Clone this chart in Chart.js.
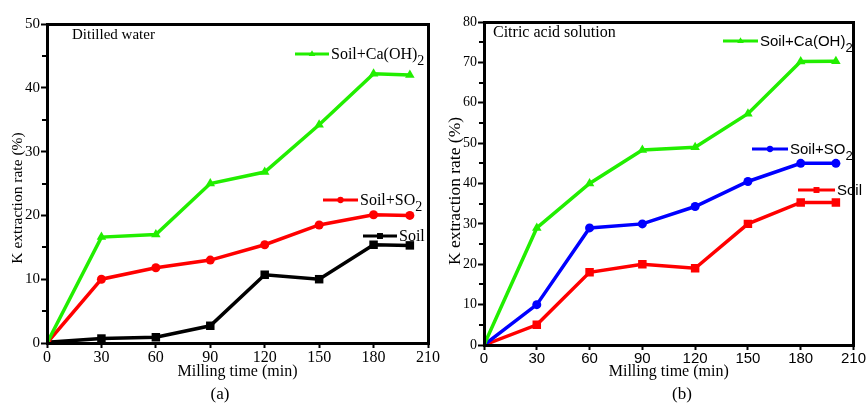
<!DOCTYPE html>
<html>
<head>
<meta charset="utf-8">
<script src="https://cdn.jsdelivr.net/npm/chart.js@4"></script>
<style>
  body { margin: 0; background: #fff; }
  #wrap { position: relative; width: 866px; height: 404px; }
  canvas { position: absolute; top: 0; }
</style>
</head>
<body>
<div id="wrap">
  <canvas id="chartA" width="440" height="404" style="left:0px"></canvas>
  <canvas id="chartB" width="426" height="404" style="left:440px"></canvas>
</div>
<script>
// milling time (min)
const times = [0, 30, 60, 90, 120, 150, 180, 200];
const xTicks = [0, 30, 60, 90, 120, 150, 180, 210];

// (a) distilled water
const waterCaOH = [0, 16.6, 17.0, 25.0, 26.8, 34.2, 42.2, 42.0];
const waterSO2 = [0, 10.0, 11.8, 13.0, 15.4, 18.5, 20.1, 20.0];
const waterSoil = [0.1, 0.7, 0.9, 2.7, 10.7, 10.0, 15.4, 15.3];
const yTicksA = [0, 10, 20, 30, 40, 50];

// (b) citric acid solution
const citricCaOH = [0, 29.0, 40.0, 48.3, 49.0, 57.3, 70.2, 70.3];
const citricSO2 = [0, 10.0, 29.0, 30.0, 34.3, 40.5, 45.0, 45.0];
const citricSoil = [0, 5.0, 18.0, 20.0, 19.0, 30.0, 35.3, 35.3];
const yTicksB = [0, 10, 20, 30, 40, 50, 60, 70, 80];

const SERIF = "'Liberation Serif', 'Times New Roman', serif";
const SANS = "'Liberation Sans', Arial, sans-serif";

function pts(vals) {
  return vals.map((v, i) => ({ x: times[i], y: v }));
}

function series(label, vals, color, style, radius) {
  return {
    label: label,
    data: pts(vals),
    borderColor: color,
    backgroundColor: color,
    borderWidth: 3.5,
    pointStyle: style,
    pointRadius: radius,
    pointBorderWidth: 0,
    pointBackgroundColor: color,
    tension: 0
  };
}

// box, minor ticks, in-plot legend and captions
const panelPlugin = {
  id: 'panel',
  afterDraw(chart, args, opts) {
    const ctx = chart.ctx;
    const a = chart.chartArea;
    const y = chart.scales.y;
    const L = Math.round(a.left), T = Math.round(a.top);
    const R = Math.round(a.right), B = Math.round(a.bottom);
    ctx.save();
    ctx.globalAlpha = 1;
    ctx.fillStyle = '#000000';
    ctx.fillRect(L - 1, T - 1, R - L + 3, 3);
    ctx.fillRect(L - 1, B - 1, R - L + 3, 3);
    ctx.fillRect(L - 1, T - 1, 3, B - T + 3);
    ctx.fillRect(R - 1, T - 1, 3, B - T + 3);
    const yt = chart.scales.y.ticks.map(t => t.value);
    for (let i = 0; i < yt.length - 1; i++) {
      const py = Math.round(y.getPixelForValue((yt[i] + yt[i + 1]) / 2));
      ctx.fillRect(L - 5, py - 1, 5, 2);
    }

    // legend entries
    chart.data.datasets.forEach((ds, i) => {
      const pos = opts.legend[i];
      ctx.strokeStyle = ds.borderColor;
      ctx.fillStyle = ds.borderColor;
      ctx.lineWidth = 3;
      ctx.beginPath();
      ctx.moveTo(pos.x1, pos.y);
      ctx.lineTo(pos.x2, pos.y);
      ctx.stroke();
      Chart.helpers.drawPoint(ctx, { pointStyle: ds.pointStyle, radius: ds.pointRadius * 0.7, rotation: 0, borderWidth: 0 },
        (pos.x1 + pos.x2) / 2, pos.y);
      const m = ds.label.match(/^(.*?)(\d?)$/);
      ctx.fillStyle = '#000';
      ctx.textBaseline = 'middle';
      ctx.textAlign = 'left';
      ctx.font = opts.legendSize + 'px ' + opts.legendFont;
      ctx.fillText(m[1], pos.x2 + 2, pos.y + 1);
      if (m[2]) {
        const w = ctx.measureText(m[1]).width;
        ctx.font = Math.round(opts.legendSize * 0.85) + 'px ' + opts.legendFont;
        ctx.fillText(m[2], pos.x2 + 2 + w, pos.y + 7);
      }
    });

    // medium label inside the plot
    ctx.fillStyle = '#000';
    ctx.textAlign = 'left';
    ctx.textBaseline = 'middle';
    ctx.font = opts.mediumSize + 'px ' + SERIF;
    ctx.fillText(opts.medium, a.left + opts.mediumX, a.top + 11);

    // axis titles and panel tag
    ctx.textAlign = 'center';
    ctx.font = '16px ' + SERIF;
    ctx.fillText('Milling time (min)', (a.left + a.right) / 2, 372);
    ctx.font = '17px ' + SERIF;
    ctx.fillText(opts.tag, opts.tagX, 395);
    ctx.save();
    ctx.translate(opts.yTitleX, opts.yTitleY);
    ctx.rotate(-Math.PI / 2);
    ctx.font = opts.yTitleSize + 'px ' + SERIF;
    ctx.fillText('K extraction rate (%)', 0, 0);
    ctx.restore();
    ctx.restore();
  }
};

function makeOptions(cfg) {
  return {
    responsive: false,
    animation: false,
    layout: { padding: { top: cfg.top, right: cfg.right, left: 0, bottom: 0 } },
    plugins: {
      legend: { display: false },
      tooltip: { enabled: false },
      panel: cfg.panel
    },
    scales: {
      x: {
        type: 'linear',
        min: 0,
        max: 210,
        afterBuildTicks: s => { s.ticks = xTicks.map(v => ({ value: v })); },
        afterFit: s => { s.height = cfg.xHeight; },
        border: { display: false },
        grid: { display: true, drawOnChartArea: false, drawTicks: true, tickLength: 5, tickWidth: 2, tickColor: '#000' },
        ticks: { color: '#000', padding: 0, maxRotation: 0, font: { family: cfg.xFont, size: cfg.xSize } }
      },
      y: {
        type: 'linear',
        min: 0,
        max: cfg.yTicks[cfg.yTicks.length - 1],
        afterBuildTicks: s => { s.ticks = cfg.yTicks.map(v => ({ value: v })); },
        afterFit: s => { s.width = cfg.yWidth; },
        border: { display: false },
        grid: { display: true, drawOnChartArea: false, drawTicks: true, tickLength: 6, tickWidth: 2, tickColor: '#000' },
        ticks: { color: '#000', padding: 1, font: { family: SERIF, size: cfg.ySize } }
      }
    }
  };
}

new Chart(document.getElementById('chartA'), {
  type: 'line',
  data: {
    datasets: [
      series('Soil+Ca(OH)2', waterCaOH, '#22ee00', 'triangle', 5.5),
      series('Soil+SO2', waterSO2, '#ff0000', 'circle', 4.5),
      series('Soil', waterSoil, '#000000', 'rect', 6)
    ]
  },
  options: makeOptions({
    top: 24, right: 7, xHeight: 61, yWidth: 47,
    xFont: SERIF, xSize: 16, ySize: 15, yTicks: yTicksA,
    panel: {
      medium: 'Ditilled water', mediumX: 25, mediumSize: 15,
      tag: '(a)', tagX: 220,
      yTitleX: 18, yTitleY: 198, yTitleSize: 15.5,
      legendFont: SERIF, legendSize: 16,
      legend: [
        { x1: 295, x2: 329, y: 54 },
        { x1: 323, x2: 358, y: 200 },
        { x1: 363, x2: 397, y: 236 }
      ]
    }
  }),
  plugins: [panelPlugin]
});

new Chart(document.getElementById('chartB'), {
  type: 'line',
  data: {
    datasets: [
      series('Soil+Ca(OH)2', citricCaOH, '#22ee00', 'triangle', 5.5),
      series('Soil+SO2', citricSO2, '#0000ff', 'circle', 4.5),
      series('Soil', citricSoil, '#ff0000', 'rect', 6)
    ]
  },
  options: makeOptions({
    top: 22, right: 2, xHeight: 59, yWidth: 44,
    xFont: SANS, xSize: 15, ySize: 14, yTicks: yTicksB,
    panel: {
      medium: 'Citric acid solution', mediumX: 9, mediumSize: 16,
      tag: '(b)', tagX: 242,
      yTitleX: 15, yTitleY: 191, yTitleSize: 17.5,
      legendFont: SANS, legendSize: 15,
      legend: [
        { x1: 283, x2: 318, y: 41 },
        { x1: 312, x2: 348, y: 149 },
        { x1: 358, x2: 395, y: 190 }
      ]
    }
  }),
  plugins: [panelPlugin]
});
</script>
</body>
</html>
